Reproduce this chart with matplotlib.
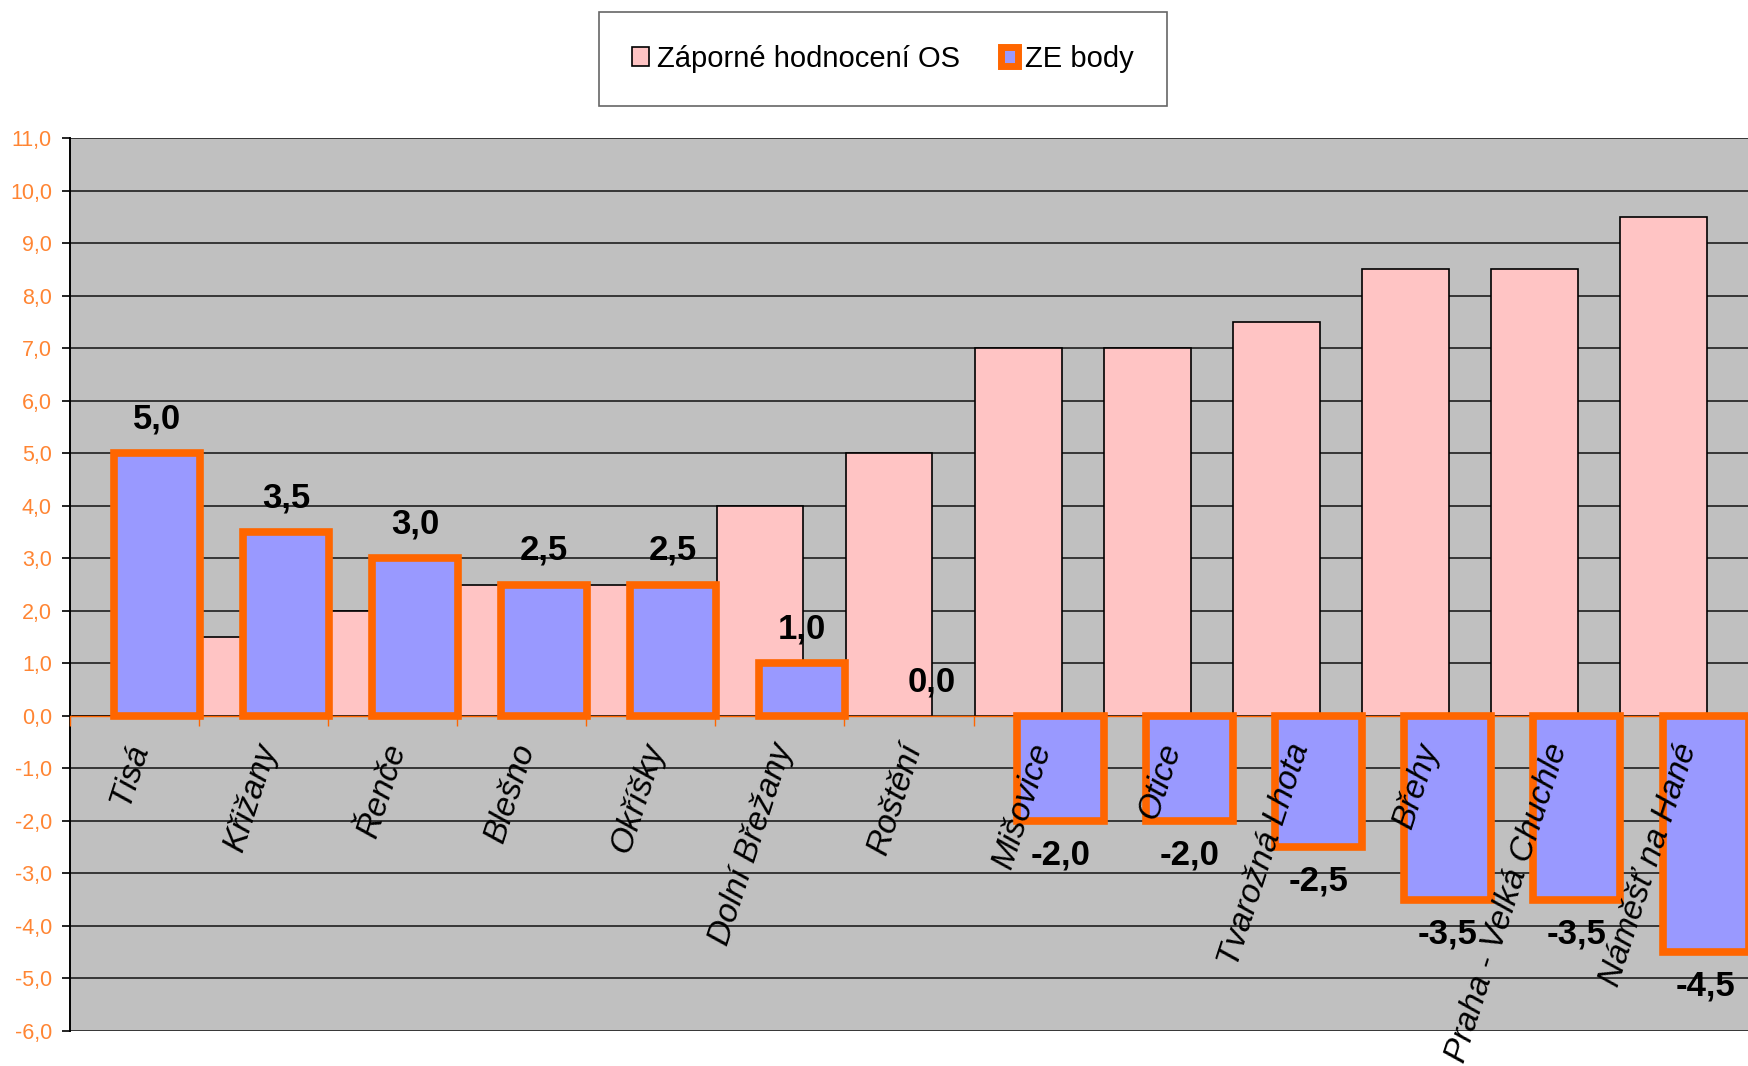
import matplotlib
matplotlib.use('Agg')
import matplotlib.pyplot as plt
from matplotlib.patches import Patch
import numpy as np

plt.rcParams['font.family'] = ['Liberation Sans', 'DejaVu Sans']

# data
categories = ['Tisá', 'Křižany', 'Řenče', 'Blešno', 'Okříšky', 'Dolní Břežany', 'Roštění',
              'Mišovice', 'Otice', 'Tvarožná Lhota', 'Břehy', 'Praha - Velká Chuchle', 'Náměšť na Hané']
zaporne_os = [0.0, 1.5, 2.0, 2.5, 2.5, 4.0, 5.0, 7.0, 7.0, 7.5, 8.5, 8.5, 9.5]
ze_body = [5.0, 3.5, 3.0, 2.5, 2.5, 1.0, 0.0, -2.0, -2.0, -2.5, -3.5, -3.5, -4.5]
series_names = ['Záporné hodnocení OS', 'ZE body']
yticks = np.arange(-6, 12, 1)

# colours
pink = '#ffc4c4'
blue = '#9999ff'
orange = '#ff6600'
tick_orange = '#ff8533'
plot_bg = '#c0c0c0'

fig = plt.figure(figsize=(17.48, 10.66), dpi=100)
ax = fig.add_axes([0.04005, 0.03283, 0.95995, 0.83771])
ax.set_facecolor(plot_bg)

x = np.arange(len(categories))
bar_w = 0.67

# grid lines drawn by hand so tick labels can stay above the bars
for yv in yticks:
    ax.axhline(yv, color='#363636', lw=1.4, zorder=0.5)

ax.bar(x + 0.347, zaporne_os, width=bar_w, color=pink, edgecolor='black', linewidth=1.2, zorder=1.6)
# zero bars are not drawn (no outline) like in the original
ze_lw = [5.5 if v != 0 else 0 for v in ze_body]
ax.bar(x + 0.673, ze_body, width=bar_w, color=blue, edgecolor=orange, linewidth=ze_lw, zorder=1.8)

# value labels on the ZE body bars
for xi, v in zip(x, ze_body):
    off = 24.5 if v >= 0 else -24.5
    ax.annotate(('%.1f' % v).replace('.', ','), (xi + 0.673, v), xytext=(0, off),
                textcoords='offset points', ha='center', va='center',
                fontsize=25, fontweight='bold', color='black', zorder=4, annotation_clip=False)

ax.set_xlim(0, len(categories))
ax.set_ylim(-6, 11)

# y axis
ax.set_yticks(yticks)
ax.set_yticklabels([('%.1f' % v).replace('.', ',') for v in yticks], color=tick_orange, fontsize=15.5)
ax.tick_params(axis='y', direction='out', length=6, width=1.2, color='black', pad=7)

# category axis sits on zero
ax.spines['bottom'].set_position(('data', 0))
ax.spines['bottom'].set_color(orange)
ax.spines['bottom'].set_linewidth(1.0)
ax.spines['left'].set_color('black')
ax.spines['left'].set_linewidth(1.4)
ax.spines['top'].set_visible(False)
ax.spines['right'].set_visible(False)

ax.set_xticks(x + 0.65)
ax.set_xticklabels(categories, rotation=72, ha='right', va='top', fontsize=24, fontstyle='italic')
ax.tick_params(axis='x', which='major', length=0, pad=17)
ax.set_xticks(np.arange(len(categories) + 1), minor=True)
ax.tick_params(axis='x', which='minor', direction='out', length=7, width=1.0, color=orange)
ax.set_axisbelow(False)

# legend
handles = [Patch(facecolor=pink, edgecolor='black', linewidth=1.2),
           Patch(facecolor=blue, edgecolor=orange, linewidth=5)]
leg = fig.legend(handles, series_names, loc='center', bbox_to_anchor=(883 / 1748, 1 - 59 / 1066),
                 ncol=2, fontsize=21, frameon=True, fancybox=False, edgecolor='#404040',
                 handlelength=0.6, handleheight=0.6, handletextpad=0.25, columnspacing=1.4,
                 borderpad=1.12)
leg.get_frame().set_linewidth(1.2)

plt.savefig('out.png', dpi=100)
